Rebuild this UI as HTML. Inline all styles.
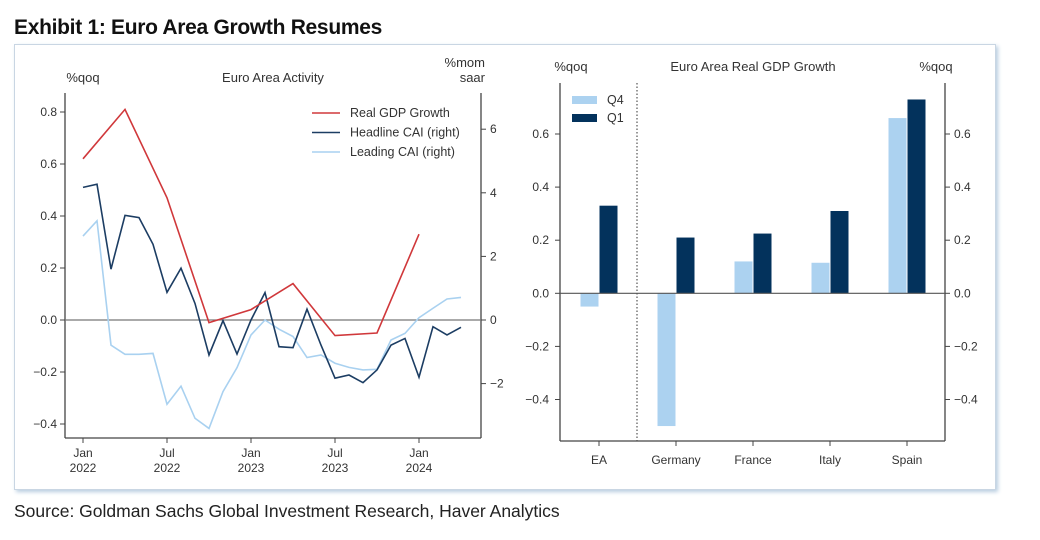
<!DOCTYPE html>
<html><head><meta charset="utf-8"><style>
body{margin:0;background:#fff;width:1040px;height:540px;overflow:hidden;font-family:"Liberation Sans",sans-serif}
#title{position:absolute;left:14px;top:16px;font:bold 21px "Liberation Sans Narrow","Liberation Sans",sans-serif;color:#111;letter-spacing:-0.3px;white-space:nowrap;transform:scaleX(1.0);transform-origin:left}
#frame{position:absolute;left:14px;top:44px;width:980px;height:444px;border:1px solid #c9d6e3;box-shadow:2px 2px 4px #b8cde0}
#src{position:absolute;left:14px;top:501px;font-size:17.5px;color:#222;white-space:nowrap;transform:scaleX(1.0);transform-origin:left}
svg text{font-family:"Liberation Sans",sans-serif;fill:#333}
</style></head><body>
<div id="title">Exhibit 1: Euro Area Growth Resumes</div>
<div id="frame"></div>
<svg id="svg" width="1040" height="540" style="position:absolute;left:0;top:0"></svg>
<div id="src">Source: Goldman Sachs Global Investment Research, Haver Analytics</div>
<script>
const gdpQ=[0.62,0.81,0.47,-0.01,0.04,0.14,-0.06,-0.05,0.33];
const headline=[4.17,4.27,1.6,3.29,3.22,2.38,0.87,1.63,0.52,-1.1,-0.02,-1.07,0,0.86,-0.84,-0.87,0.34,-0.79,-1.83,-1.73,-1.97,-1.57,-0.79,-0.58,-1.8,-0.21,-0.47,-0.23];
const leading=[2.64,3.12,-0.79,-1.08,-1.08,-1.05,-2.65,-2.08,-3.09,-3.41,-2.25,-1.5,-0.47,0,-0.29,-0.52,-1.18,-1.1,-1.36,-1.49,-1.57,-1.55,-0.63,-0.42,0.07,0.37,0.66,0.71];
const leftTicks=[0.8,0.6,0.4,0.2,0.0,-0.2,-0.4];
const rightTicks=[6,4,2,0,-2];
const xTickLabels=[["Jan","2022"],["Jul","2022"],["Jan","2023"],["Jul","2023"],["Jan","2024"]];
const countries=["EA","Germany","France","Italy","Spain"];
const q4=[-0.05,-0.50,0.12,0.115,0.66];
const q1=[0.33,0.21,0.225,0.31,0.73];
const barTicks=[0.6,0.4,0.2,0.0,-0.2,-0.4];

const S=document.getElementById('svg');const NS='http://www.w3.org/2000/svg';
function mk(t,a,txt){const e=document.createElementNS(NS,t);for(const k in a)e.setAttribute(k,a[k]);if(txt!==undefined)e.textContent=txt;S.appendChild(e);return e;}
const xM=m=>83+14*m, yL=v=>320-260*v, yR=v=>320-31.8*v;
const L=65,R=481,B=438,T=93;
let e;
e=mk('line',{x1:L,y1:T,x2:L,y2:B,stroke:'#444','stroke-width':1.3});
e=mk('line',{x1:R,y1:T,x2:R,y2:B,stroke:'#444','stroke-width':1.3});
e=mk('line',{x1:L,y1:B,x2:R,y2:B,stroke:'#444','stroke-width':1.3});
e=mk('line',{x1:L,y1:yL(0),x2:R,y2:yL(0),stroke:'#777','stroke-width':1.2});
leftTicks.forEach(v=>{mk('line',{x1:L-5,y1:yL(v),x2:L,y2:yL(v),stroke:'#444'});
e=mk('text',{x:L-8,y:yL(v)+4,'text-anchor':'end','font-size':12},(v<0?'\u2212':'')+Math.abs(v).toFixed(1));});
rightTicks.forEach(v=>{mk('line',{x1:R,y1:yR(v),x2:R+5,y2:yR(v),stroke:'#444'});
e=mk('text',{x:R+9,y:yR(v)+4,'font-size':12},(v<0?'\u2212':'')+Math.abs(v));});
xTickLabels.forEach((l,i)=>{const x=xM(i*6);mk('line',{x1:x,y1:B,x2:x,y2:B+5,stroke:'#444'});
e=mk('text',{x:x,y:457,'text-anchor':'middle','font-size':12},l[0]);
e=mk('text',{x:x,y:472,'text-anchor':'middle','font-size':12},l[1]);});
e=mk('text',{x:83,y:82,'text-anchor':'middle','font-size':13},'%qoq');
e=mk('text',{x:273,y:82,'text-anchor':'middle','font-size':13},'Euro Area Activity');
e=mk('text',{x:485,y:67,'text-anchor':'end','font-size':13},'%mom');
e=mk('text',{x:485,y:82,'text-anchor':'end','font-size':13},'saar');
function line(vals,xf,yf,col,name){e=mk('polyline',{points:vals.map((v,i)=>xf(i)+','+yf(v)).join(' '),fill:'none',stroke:col,'stroke-width':1.6});}
line(leading,i=>xM(i),yR,'#a9d1f0','leading-cai-line');
line(headline,i=>xM(i),yR,'#1c3d63','headline-cai-line');
line(gdpQ,i=>xM(i*3),yL,'#d0383b','real-gdp-line');
[['Real GDP Growth','#d0383b'],['Headline CAI (right)','#1c3d63'],['Leading CAI (right)','#a9d1f0']].forEach((l,i)=>{const y=113+19.5*i;
mk('line',{x1:312,y1:y,x2:340,y2:y,stroke:l[1],'stroke-width':1.6});
e=mk('text',{x:350,y:y+4,'font-size':12.5},l[0]);});
const L2=560,R2=945,B2=441,T2=83,cx=i=>599+77*i,yB=v=>293.3-265.5*v,bw=18;
e=mk('line',{x1:L2,y1:T2,x2:L2,y2:B2,stroke:'#444','stroke-width':1.3});
e=mk('line',{x1:R2,y1:T2,x2:R2,y2:B2,stroke:'#444','stroke-width':1.3});
e=mk('line',{x1:L2,y1:B2,x2:R2,y2:B2,stroke:'#444','stroke-width':1.3});
e=mk('line',{x1:637,y1:T2,x2:637,y2:B2,stroke:'#555','stroke-width':1.2,'stroke-dasharray':'1.5,2'});
barTicks.forEach(v=>{const t=(v<0?'\u2212':'')+Math.abs(v).toFixed(1);
mk('line',{x1:L2-5,y1:yB(v),x2:L2,y2:yB(v),stroke:'#444'});mk('line',{x1:R2,y1:yB(v),x2:R2+5,y2:yB(v),stroke:'#444'});
e=mk('text',{x:L2-11,y:yB(v)+4,'text-anchor':'end','font-size':12},t);
e=mk('text',{x:R2+9,y:yB(v)+4,'font-size':12},t);});
countries.forEach((c,i)=>{
let v=q4[i];e=mk('rect',{x:cx(i)-bw-0.5,y:Math.min(yB(v),yB(0)),width:bw,height:Math.abs(yB(v)-yB(0)),fill:'#acd2f0'});
v=q1[i];e=mk('rect',{x:cx(i)+0.5,y:Math.min(yB(v),yB(0)),width:bw,height:Math.abs(yB(v)-yB(0)),fill:'#03325c'});
mk('line',{x1:cx(i),y1:B2,x2:cx(i),y2:B2+5,stroke:'#444'});
e=mk('text',{x:cx(i),y:464,'text-anchor':'middle','font-size':12},c);});
e=mk('line',{x1:L2,y1:yB(0),x2:R2,y2:yB(0),stroke:'#555','stroke-width':1.2});
e=mk('text',{x:571,y:71,'text-anchor':'middle','font-size':13},'%qoq');
e=mk('text',{x:753,y:71,'text-anchor':'middle','font-size':13},'Euro Area Real GDP Growth');
e=mk('text',{x:936,y:71,'text-anchor':'middle','font-size':13},'%qoq');
[['Q4','#acd2f0'],['Q1','#03325c']].forEach((l,i)=>{const y=96+18*i;
mk('rect',{x:572,y:y,width:25,height:8,fill:l[1]});
e=mk('text',{x:607,y:y+8,'font-size':12.5},l[0]);});
</script>
</body></html>
